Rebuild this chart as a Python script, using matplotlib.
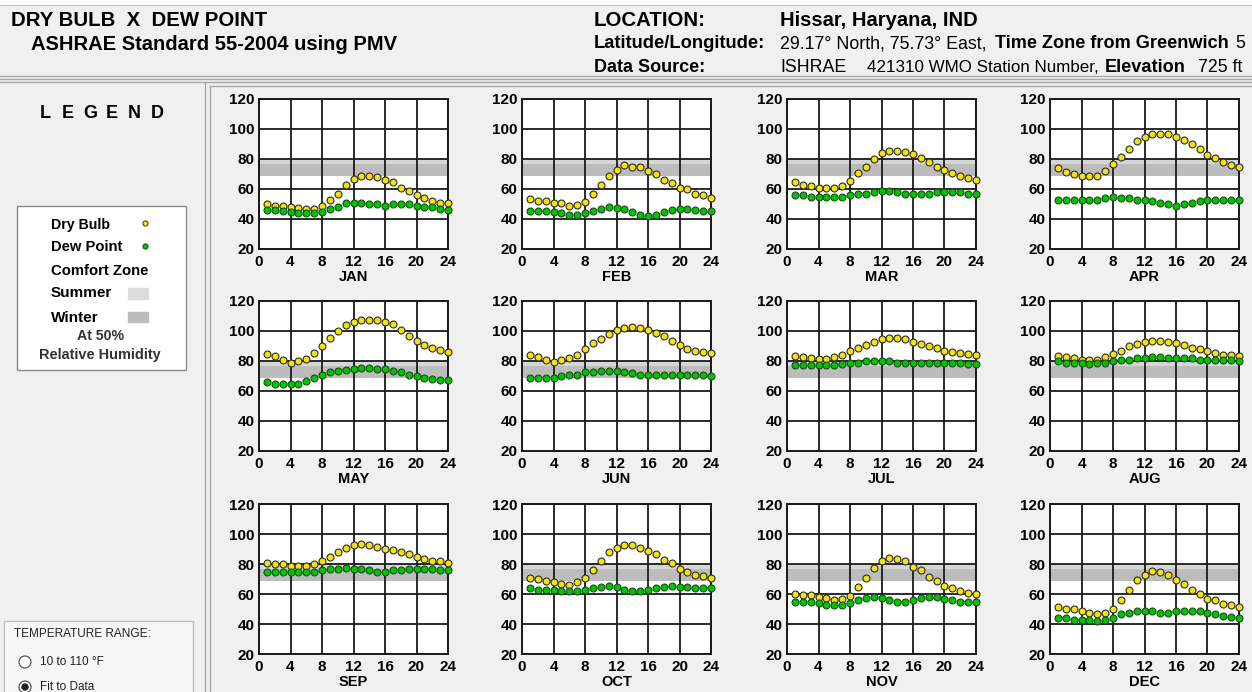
import matplotlib

matplotlib.use("Agg")
import matplotlib.pyplot as plt
from matplotlib.patches import Rectangle, Circle

# ---- datos (°F, horas 1..24) ----
HOURS = list(range(1, 25))
MONTHS = ["JAN", "FEB", "MAR", "APR", "MAY", "JUN",
          "JUL", "AUG", "SEP", "OCT", "NOV", "DEC"]

DRY_JAN = [50, 49, 49, 48, 47.5, 46.5, 47, 48.5, 53, 57, 63, 67,
           69, 69, 68, 66, 65, 61, 59, 56, 54, 52, 51, 51]
DEW_JAN = [46, 46, 45.5, 45, 44, 44, 44, 44.5, 47, 48, 51, 51,
           51, 50, 50, 49, 50, 50, 50, 49, 48, 48, 47, 46]
DRY_FEB = [53.5, 52, 52, 50.5, 50.5, 49, 49.5, 51.5, 57, 63, 69, 73,
           76, 75, 74.5, 72, 70, 66, 64, 61, 60, 57, 56, 54]
DEW_FEB = [45.5, 45.5, 45.5, 44.5, 44, 43, 43, 44, 45.5, 47, 48, 47.5,
           47, 44.5, 43, 42, 43, 44.5, 46, 47, 47, 46, 45.5, 45.5]
DRY_MAR = [65, 63, 62, 61, 61, 61, 62, 65.5, 71, 75, 80, 84,
           85.5, 85.5, 85, 83.5, 81, 78, 75, 73, 70.5, 69, 67.5, 66]
DEW_MAR = [56, 56, 55, 55, 55, 55, 55, 56, 56.5, 57, 58, 59,
           59, 58, 57, 57, 56.5, 57, 58, 58, 58, 58, 57, 56.5]
DRY_APR = [74, 71.5, 70, 68.5, 68.5, 69, 72, 77, 81.5, 87, 92, 95,
           96.5, 97, 96.5, 95, 92.5, 90, 86.5, 82.5, 80.5, 78, 76, 75]
DEW_APR = [52.5, 53, 52.5, 52.5, 52.5, 53, 54, 55, 54, 54, 53, 52.5,
           52, 51, 50, 49, 50, 51, 52, 53, 53, 53, 52.5, 52.5]
DRY_MAY = [85, 83.5, 81, 79, 80, 81.5, 85.5, 90, 95.5, 100, 104, 106,
           107.5, 107.5, 107.5, 106, 104.5, 101, 97, 93.5, 90.5, 88.5, 87.5, 86]
DEW_MAY = [66, 65, 64.5, 64.5, 65, 67, 69, 70.5, 73, 73.5, 74, 75,
           75.5, 75.5, 75, 75, 73.5, 73, 71, 70, 69, 68, 67.5, 67.5]
DRY_JUN = [84, 82.5, 81, 79.5, 80.5, 82, 84, 88, 92, 95, 98, 100.5,
           102, 102.5, 102, 101, 99, 96.5, 93.5, 90.5, 88, 87, 86, 85.5]
DEW_JUN = [69, 69, 69, 69, 70, 70.5, 71, 73, 73, 73.5, 73.5, 73.5,
           73, 72, 71, 71, 70.5, 71, 71, 71, 71, 71, 70.5, 70]
DRY_JUL = [83.5, 82.5, 82, 81.5, 81.5, 82.5, 84, 86.5, 88.5, 91, 93, 94.5,
           95.5, 95.5, 94.5, 93, 91.5, 90, 88.5, 86.5, 86, 85.5, 85, 84]
DEW_JUL = [77.5, 77.5, 77.5, 77.5, 77.5, 77.5, 78, 79, 79, 80, 80, 80,
           80, 79, 79, 79, 79, 79, 79, 79, 79, 79, 78, 78]
DRY_AUG = [83.5, 82.5, 82, 81, 80.5, 81, 82.5, 85, 87, 90, 91.5, 93,
           93.5, 93.5, 93, 92, 91, 89, 88, 86.5, 85.5, 84, 84, 83.5]
DEW_AUG = [80, 79, 79, 79, 78, 79, 79, 80, 80.5, 81, 82, 82,
           82.5, 82.5, 82, 82, 82, 82, 81, 81, 80.5, 80.5, 80.5, 80]
DRY_SEP = [80.5, 80, 80, 79, 79, 79, 80, 82, 85, 88, 91, 92.5,
           93.5, 92.5, 91.5, 90, 89.5, 88, 86.5, 85, 83.5, 82, 82, 80.5]
DEW_SEP = [75, 75, 74.5, 74.5, 74.5, 74.5, 75, 76, 76.5, 76.5, 77.5, 76.5,
           76.5, 76, 75, 75, 76, 76, 76.5, 76.5, 76.5, 76.5, 76, 76]
DRY_OCT = [70.5, 70, 69, 68, 67, 66, 68, 70.5, 76, 82, 88, 91,
           92.5, 92.5, 91, 88.5, 86.5, 82.5, 80.5, 76.5, 75, 73, 72, 70.5]
DEW_OCT = [64, 63, 63, 62.5, 62, 62, 62, 62.5, 64, 64.5, 65.5, 64.5,
           63, 62, 62, 62.5, 64, 64.5, 65.5, 64.5, 64.5, 64, 64, 64]
DRY_NOV = [60, 59.5, 59.5, 58, 57.5, 56, 56.5, 59, 65, 71, 77.5, 82,
           84, 83.5, 82, 78, 76, 71.5, 69, 65.5, 64, 62, 61, 60]
DEW_NOV = [55, 54.5, 54.5, 54, 53, 52.5, 53, 54, 56, 57.5, 58, 57.5,
           56, 54.5, 55, 56, 57.5, 58, 58, 57, 56, 54.5, 55, 54.5]
DRY_DEC = [51.5, 50, 50, 48.5, 47.5, 46.5, 47.5, 50, 56, 62.5, 69.5, 73,
           75.5, 74.5, 73, 69.5, 67, 62.5, 60, 56.5, 56, 53.5, 53, 51.5]
DEW_DEC = [44, 44, 43, 42.5, 42.5, 42, 42.5, 44, 46.5, 47.5, 49, 49,
           49, 47.5, 47.5, 48.5, 49, 49, 49, 47.5, 46.5, 45.5, 45, 44]

DRY = [DRY_JAN, DRY_FEB, DRY_MAR, DRY_APR, DRY_MAY, DRY_JUN,
       DRY_JUL, DRY_AUG, DRY_SEP, DRY_OCT, DRY_NOV, DRY_DEC]
DEW = [DEW_JAN, DEW_FEB, DEW_MAR, DEW_APR, DEW_MAY, DEW_JUN,
       DEW_JUL, DEW_AUG, DEW_SEP, DEW_OCT, DEW_NOV, DEW_DEC]

# zonas de confort (°F)
SUMMER_ZONE = (68.5, 80)
WINTER_ZONE = (69, 76.5)

# ---- estilo ----
W, H = 1252, 692
BG = "#f0f0f0"
YELLOW = "#f4e40a"
GREEN = "#00c400"
SUMMER_C = "#d6d6d6"
WINTER_C = "#bcbcbc"
FONT = "Liberation Sans"

plt.rcParams["font.family"] = FONT

fig = plt.figure(figsize=(W / 100, H / 100), dpi=100, facecolor=BG)
renderer = fig.canvas.get_renderer()

# eje de fondo en coordenadas de píxel
bg = fig.add_axes([0, 0, 1, 1])
bg.set_xlim(0, W)
bg.set_ylim(H, 0)
bg.axis("off")


def fit(x0, x1, y, txt, weight="bold", size=10, **kw):
    """Texto desde x0 con tamaño ajustado para terminar en x1 (píxeles)."""
    t = bg.text(x0, y, txt, fontsize=size, fontweight=weight,
                ha="left", va="center", **kw)
    w = t.get_window_extent(renderer).width
    t.set_fontsize(size * (x1 - x0) / w)
    return t


# marcos del encabezado y paneles
bg.add_patch(Rectangle((0, 0), W, 5, color="white", zorder=0))
bg.plot([0, W], [5, 5], color="#c8c8c8", lw=1)
for y in (76, 79, 82):
    bg.plot([0, W], [y, y], color="#a8a8a8", lw=1)
bg.plot([205, 205], [82, H], color="#a8a8a8", lw=1)
bg.plot([210, 210], [86, H], color="#a8a8a8", lw=1)
bg.plot([210, W], [86, 86], color="#a8a8a8", lw=1)

# ---- encabezado ----
fit(11, 266, 20, "DRY BULB  X  DEW POINT")
fit(31, 398, 45, "ASHRAE Standard 55-2004 using PMV")
fit(594, 705, 20, "LOCATION:")
fit(780, 976, 20, "Hissar, Haryana, IND")
fit(594, 766, 44, "Latitude/Longitude:")
fit(594, 705, 67, "Data Source:")
reg = fit(780, 987, 44, "29.17° North, 75.73° East,", weight="normal")
bold = fit(995, 1228, 44, "Time Zone from Greenwich")
rs, bs = reg.get_fontsize(), bold.get_fontsize()
bg.text(1235, 44, "5", fontsize=rs, va="center")
bg.text(780, 67, "ISHRAE", fontsize=rs, va="center")
fit(867, 1098, 67, "421310 WMO Station Number,", weight="normal")
bg.text(1105, 67, "Elevation", fontsize=bs, fontweight="bold", va="center")
bg.text(1198, 67, "725 ft", fontsize=rs, va="center")

# ---- leyenda ----
for k, ch in enumerate("LEGEND"):
    bg.text(45 + 22.4 * k, 114, ch, fontsize=13, fontweight="bold",
            ha="center", va="center")
bg.add_patch(Rectangle((17, 206), 169, 164, facecolor="white",
                       edgecolor="#8a8a8a", lw=1))
fit(51, 110, 225, "Dry Bulb")
fit(51, 122, 247, "Dew Point")
fit(51, 148, 271, "Comfort Zone")
fit(51, 112, 293, "Summer")
fit(51, 99, 318, "Winter")
fit(77, 124, 336, "At 50%", color="#333333")
fit(39, 161, 355, "Relative Humidity", color="#333333")
bg.scatter([145], [223], s=14, color=YELLOW, edgecolor="#333333", lw=0.7,
           zorder=3)
bg.scatter([145], [246], s=14, color=GREEN, edgecolor="#1b4d1b", lw=0.7,
           zorder=3)
bg.add_patch(Rectangle((128, 288), 20, 11, color="#dcdcdc"))
bg.add_patch(Rectangle((128, 312), 20, 10, color=WINTER_C))

# ---- rango de temperatura ----
bg.add_patch(Rectangle((4, 621), 189, 80, facecolor="#f7f7f7",
                       edgecolor="#c0c0c0", lw=1))
small = dict(fontsize=8.5, va="center", ha="left", color="#222222")
bg.text(14, 634, "TEMPERATURE RANGE:", **small)
bg.text(40, 662, "10 to 110 °F", **small)
bg.text(40, 687, "Fit to Data", **small)
bg.add_patch(Circle((25, 662), 6, facecolor="white", edgecolor="#555555",
                    lw=0.9))
bg.add_patch(Circle((25, 687), 6, facecolor="white", edgecolor="#555555",
                    lw=0.9))
bg.add_patch(Circle((25, 687), 3, color="#222222"))

# ---- paneles mensuales ----
COL_LEFT = [259, 522, 787, 1050]
ROW_TOP = [99, 301, 504]
PW, PH = 189, 150

for i, (month, dry, dew) in enumerate(zip(MONTHS, DRY, DEW)):
    r, c = divmod(i, 4)
    rect = [COL_LEFT[c] / W, 1 - (ROW_TOP[r] + PH) / H, PW / W, PH / H]
    ax = fig.add_axes(rect)
    ax.set_facecolor("white")
    ax.axhspan(*SUMMER_ZONE, color=SUMMER_C, lw=0, zorder=1)
    ax.axhspan(*WINTER_ZONE, color=WINTER_C, lw=0, zorder=1.1)
    ax.scatter(HOURS, dry, s=25, color=YELLOW, edgecolor="#2b2b2b",
               lw=0.8, zorder=3, clip_on=False)
    ax.scatter(HOURS, dew, s=25, color=GREEN, edgecolor="#1b4d1b",
               lw=0.8, zorder=3, clip_on=False)
    ax.set_xlim(0, 24)
    ax.set_ylim(20, 120)
    ax.set_xticks(range(0, 25, 4))
    ax.set_yticks(range(20, 121, 20))
    ax.set_axisbelow("line")
    ax.grid(True, color="#1a1a1a", lw=1.3)
    ax.tick_params(length=0, labelsize=11, colors="black")
    ax.tick_params(axis="x", pad=4)
    ax.tick_params(axis="y", pad=3)
    for lab in ax.get_xticklabels() + ax.get_yticklabels():
        lab.set_fontweight("bold")
    for sp in ax.spines.values():
        sp.set_color("#1a1a1a")
        sp.set_linewidth(1.4)
    ax.set_xlabel(month, fontsize=10.5, fontweight="bold", labelpad=1)

fig.savefig("out.png", dpi=100, facecolor=BG)
